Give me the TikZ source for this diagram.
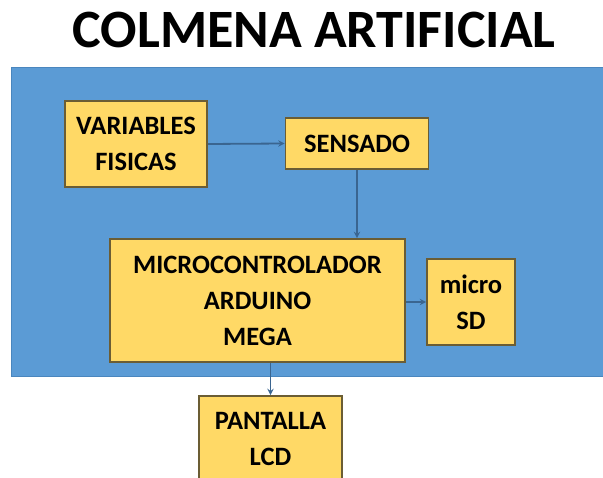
\documentclass[tikz,border=0pt]{standalone}
\usepackage{fontspec}
\setmainfont{Carlito}
\definecolor{panelblue}{HTML}{5B9BD5}
\definecolor{paneledge}{HTML}{4A86BE}
\definecolor{boxfill}{HTML}{FFD966}
\definecolor{boxedge}{HTML}{6B5D34}
\definecolor{lineblue}{HTML}{3A6590}
\begin{document}
\begin{tikzpicture}[x=1pt, y=-1pt, line join=miter, >=stealth]
	\tikzset{bloque/.style={draw=boxedge, fill=boxfill, line width=1.8pt, align=center, inner sep=0pt, font=\bfseries\fontsize{26.5}{36}\selectfont},
		conector/.style={->, draw=lineblue, line width=1.8pt}}
	\useasboundingbox (0,0) rectangle (603,478);
	\clip (0,0) rectangle (603,478);
	\node[font=\bfseries\fontsize{54}{60}\selectfont] (titulo) at (314,30) {COLMENA ARTIFICIAL};
	\draw[fill=panelblue, draw=paneledge, line width=1pt] (11,68) rectangle (612,377);
	\node[bloque, minimum width=142, minimum height=86] (variables) at (136,144) {VARIABLES\\FISICAS};
	\node[bloque, minimum width=143, minimum height=51] (sensado) at (357,143.5) {SENSADO};
	\node[bloque, minimum width=295, minimum height=123] (micro) at (257.5,300.5) {MICROCONTROLADOR\\ARDUINO\\MEGA};
	\node[bloque, minimum width=88, minimum height=86] (sd) at (471,302) {micro\\SD};
	\node[bloque, minimum width=143, minimum height=85] (lcd) at (270.5,438.5) {PANTALLA\\LCD};
	\draw[conector] (variables.east) -- (sensado.west);
	\draw[conector] (sensado.south) -- (sensado.south |- micro.north);
	\draw[conector] (micro.east |- sd.west) -- (sd.west);
	\draw[conector] (lcd.north |- micro.south) -- (lcd.north);
\end{tikzpicture}
\end{document}
